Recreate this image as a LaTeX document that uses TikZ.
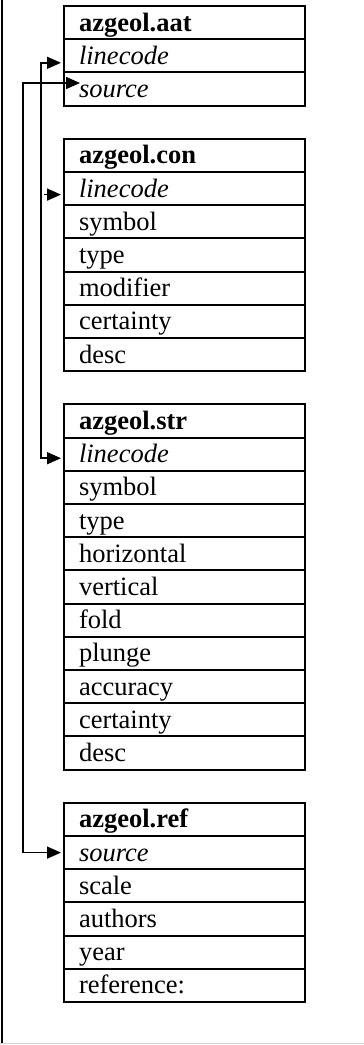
\documentclass[tikz,border=0pt]{standalone}
\usepackage{fontspec}
\setmainfont{Liberation Serif}
\usepackage{tikz}
\usetikzlibrary{arrows.meta, positioning}

\begin{document}
\begin{tikzpicture}[
    field/.style={rectangle, draw, line width=2pt, outer sep=0pt, minimum width=241pt, minimum height=33.2pt,
                  inner xsep=15pt, inner ysep=0pt, text width=211pt, align=left, text height=25pt, text depth=8.2pt,
                  font=\fontsize{26.5}{30}\selectfont},
    head/.style={field, font=\fontsize{26.5}{30}\selectfont\bfseries},
    key/.style={field, font=\fontsize{26.5}{30}\selectfont\itshape},
    link/.style={line width=1.6pt, shorten <=3pt, shorten >=3pt},
    >={Triangle[length=14pt, width=12pt]}
]
\useasboundingbox (0,0) rectangle (364pt,-1045pt);

% page frame
\draw[line width=2pt] (1.5pt,0) -- (1.5pt,-1043pt);
\draw[gray!35, line width=1pt] (0,-1043.5pt) -- (364pt,-1043.5pt);

% azgeol.aat
\node[head, anchor=north west] (aat) at (64pt,-6pt) {azgeol.aat};
\node[key,   below=0pt of aat]          (aat-linecode) {linecode};
\node[key,   below=0pt of aat-linecode] (aat-source)   {source};

% azgeol.con
\node[head,  below=33.2pt of aat-source] (con)          {azgeol.con};
\node[key,   below=0pt of con]           (con-linecode) {linecode};
\node[field, below=0pt of con-linecode]  (con-symbol)   {symbol};
\node[field, below=0pt of con-symbol]    (con-type)     {type};
\node[field, below=0pt of con-type]      (con-modifier) {modifier};
\node[field, below=0pt of con-modifier]  (con-certainty){certainty};
\node[field, below=0pt of con-certainty] (con-desc)     {desc};

% azgeol.str
\node[head,  below=33.2pt of con-desc]    (str)            {azgeol.str};
\node[key,   below=0pt of str]            (str-linecode)   {linecode};
\node[field, below=0pt of str-linecode]   (str-symbol)     {symbol};
\node[field, below=0pt of str-symbol]     (str-type)       {type};
\node[field, below=0pt of str-type]       (str-horizontal) {horizontal};
\node[field, below=0pt of str-horizontal] (str-vertical)   {vertical};
\node[field, below=0pt of str-vertical]   (str-fold)       {fold};
\node[field, below=0pt of str-fold]       (str-plunge)     {plunge};
\node[field, below=0pt of str-plunge]     (str-accuracy)   {accuracy};
\node[field, below=0pt of str-accuracy]   (str-certainty)  {certainty};
\node[field, below=0pt of str-certainty]  (str-desc)       {desc};

% azgeol.ref
\node[head,  below=33.2pt of str-desc] (ref)           {azgeol.ref};
\node[key,   below=0pt of ref]         (ref-source)    {source};
\node[field, below=0pt of ref-source]  (ref-scale)     {scale};
\node[field, below=0pt of ref-scale]   (ref-authors)   {authors};
\node[field, below=0pt of ref-authors] (ref-year)      {year};
\node[field, below=0pt of ref-year]    (ref-reference) {reference:};

% key links
\coordinate (busA) at (23pt,0);
\coordinate (busB) at (41pt,0);

\draw[link, <->, shorten <=0pt]
    ([xshift=16pt,yshift=6pt]aat-source.west) -- ([yshift=6pt]aat-source.west -| busA) |- (ref-source.west);
\draw[link, <->]
    ([yshift=-7pt]aat-linecode.west) -- ([yshift=-7pt]aat-linecode.west -| busB) |- ([yshift=-4pt]str-linecode.west);
\draw[link, ->] ([yshift=-6pt]con-linecode.west -| busB) -- ([yshift=-6pt]con-linecode.west);
\end{tikzpicture}
\end{document}
